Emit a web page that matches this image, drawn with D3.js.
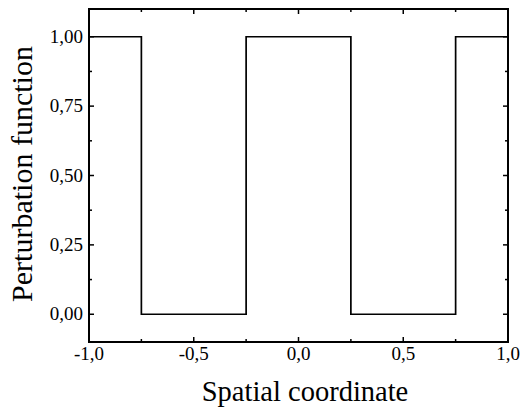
<!DOCTYPE html>
<html>
<head>
<meta charset="utf-8">
<script src="https://cdn.jsdelivr.net/npm/d3@7"></script>
<style>
  body { margin: 0; background: #fff; }
  svg text { font-family: "Liberation Serif", "Times New Roman", serif; fill: #000; }
</style>
</head>
<body>
<div id="chart"></div>
<script>
// square wave: x breakpoints and level after each one
var xs = [-1, -0.75, -0.25, 0.25, 0.75, 1]
var ys = [1, 0, 1, 0, 1, 1]

var xMajor = [-1, -0.5, 0, 0.5, 1]
var xMinor = [-0.75, -0.25, 0.25, 0.75]
var yMajor = [0, 0.25, 0.5, 0.75, 1]
var yMinor = [0.125, 0.375, 0.625, 0.875]

var width = 527,
    height = 417

// plot frame edges (don't use "top", it's window.top)
var pLeft = 89, pRight = 508, pTop = 9, pBottom = 342

var svg = d3.select("#chart")
  .append("svg")
    .attr("width", width)
    .attr("height", height)

var x = d3.scaleLinear().domain([-1, 1]).range([pLeft, pRight])
var y = d3.scaleLinear().domain([-0.1, 1.1]).range([pBottom, pTop])

var loc = d3.formatLocale({decimal: ",", thousands: ".", grouping: [3], currency: ["", ""], minus: "-"})
var fx = loc.format(".1f"), fy = loc.format(".2f")

// frame
svg.append("rect")
  .attr("x", pLeft).attr("y", pTop)
  .attr("width", pRight - pLeft).attr("height", pBottom - pTop)
  .attr("fill", "none").attr("stroke", "#000").attr("stroke-width", 2)

// ticks, all pointing inward
function ticksX(vals, len) {
  vals.forEach(function(v) {
    svg.append("line").attr("x1", x(v)).attr("x2", x(v)).attr("y1", pBottom).attr("y2", pBottom - len)
      .attr("stroke", "#000").attr("stroke-width", 1.5)
    svg.append("line").attr("x1", x(v)).attr("x2", x(v)).attr("y1", pTop).attr("y2", pTop + len)
      .attr("stroke", "#000").attr("stroke-width", 1.5)
  })
}
function ticksY(vals, len) {
  vals.forEach(function(v) {
    svg.append("line").attr("x1", pLeft).attr("x2", pLeft + len).attr("y1", y(v)).attr("y2", y(v))
      .attr("stroke", "#000").attr("stroke-width", 1.5)
    svg.append("line").attr("x1", pRight).attr("x2", pRight - len).attr("y1", y(v)).attr("y2", y(v))
      .attr("stroke", "#000").attr("stroke-width", 1.5)
  })
}
ticksX(xMajor, 5); ticksX(xMinor, 3)
ticksY(yMajor, 5); ticksY(yMinor, 3)

// tick labels
svg.selectAll(".xl").data(xMajor).enter().append("text")
  .attr("x", function(d) { return x(d) }).attr("y", 360)
  .attr("text-anchor", "middle").attr("font-size", 19)
  .text(function(d) { return fx(d) })

svg.selectAll(".yl").data(yMajor).enter().append("text")
  .attr("x", pLeft - 6).attr("y", function(d) { return y(d) + 6 })
  .attr("text-anchor", "end").attr("font-size", 19)
  .text(function(d) { return fy(d) })

// the curve
var line = d3.line()
  .x(function(d, i) { return x(xs[i]) })
  .y(function(d, i) { return y(ys[i]) })
  .curve(d3.curveStepAfter)

svg.append("path")
  .datum(xs)
  .attr("d", line)
  .attr("fill", "none")
  .attr("stroke", "#000")
  .attr("stroke-width", 1.7)

// axis titles
svg.append("text")
  .attr("x", 305).attr("y", 401)
  .attr("text-anchor", "middle").attr("font-size", 28.5)
  .text("Spatial coordinate")

svg.append("text")
  .attr("transform", "translate(32,174) rotate(-90)")
  .attr("text-anchor", "middle").attr("font-size", 30)
  .text("Perturbation function")
</script>
</body>
</html>
